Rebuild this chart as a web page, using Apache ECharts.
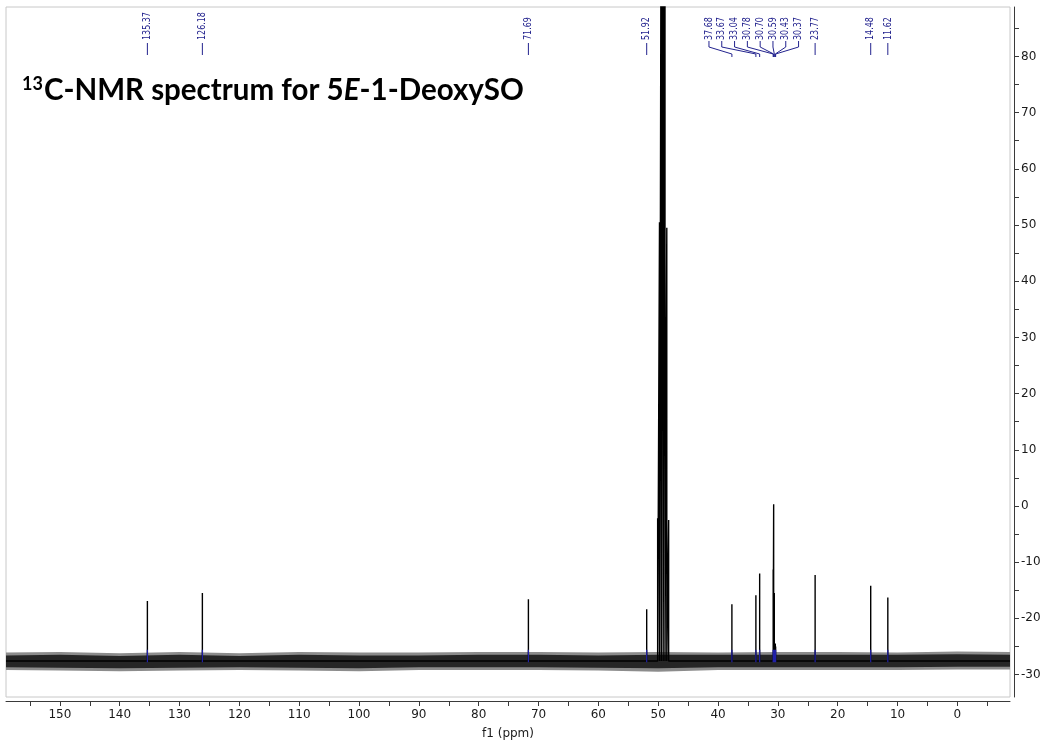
<!DOCTYPE html>
<html>
<head>
<meta charset="utf-8">
<title>13C-NMR 5E-1-DeoxySO</title>
<script src="https://cdn.jsdelivr.net/npm/echarts@6/dist/echarts.min.js"></script>
<style>
  html, body { margin: 0; padding: 0; background: #fff; }
  #chart { width: 1046px; height: 745px; }
</style>
</head>
<body>
<div id="chart"></div>
<script>
const peakPpm = [135.37, 126.18, 71.69, 51.92, 37.68, 33.67, 33.04, 30.78, 30.70, 30.59, 30.43, 30.37, 23.77, 14.48, 11.62];
const peakTop = [-16.9, -15.5, -16.6, -18.4, -17.5, -15.9, -12.0, -11.3, 0.3, -15.5, -24.5, -25.0, -12.3, -14.2, -16.3];

// solvent septet (not labelled); the three middle lines run off the top
const solventPpm = [50.09, 49.78, 49.48, 49.17, 48.86, 48.56, 48.25];
const solventTop = [-2.2, 50.5, 130, 150, 130, 49.5, -2.5];

// baseline noise: outer envelope and dense core, read every 10 ppm
const noisePpm = [159, 150, 140, 130, 120, 110, 100, 90, 80, 70, 60, 50, 40, 30, 20, 10, 0, -8.8];
const noiseHigh = [-26.1, -26.0, -26.2, -26.0, -26.2, -26.0, -26.1, -26.1, -26.0, -26.0, -26.1, -26.0, -26.1, -26.0, -26.0, -26.1, -25.9, -26.0];
const noiseLow = [-29.2, -29.3, -29.4, -29.3, -29.2, -29.3, -29.4, -29.2, -29.2, -29.2, -29.3, -29.5, -29.2, -29.2, -29.2, -29.2, -29.1, -29.1];
const coreHigh = [-26.6, -26.5, -26.7, -26.5, -26.7, -26.5, -26.6, -26.6, -26.5, -26.5, -26.6, -26.5, -26.5, -26.5, -26.5, -26.5, -26.4, -26.5];
const coreLow = [-28.7, -28.8, -28.9, -28.8, -28.7, -28.8, -28.9, -28.7, -28.7, -28.7, -28.8, -28.9, -28.7, -28.7, -28.7, -28.7, -28.6, -28.6];
const baseline = -27.6;

// axis ticks and labels
const xLabels = [150, 140, 130, 120, 110, 100, 90, 80, 70, 60, 50, 40, 30, 20, 10, 0];
const xTicks = [155, 150, 145, 140, 135, 130, 125, 120, 115, 110, 105, 100, 95, 90, 85, 80, 75, 70, 65, 60, 55, 50, 45, 40, 35, 30, 25, 20, 15, 10, 5, 0, -5];
const yLabels = [-30, -20, -10, 0, 10, 20, 30, 40, 50, 60, 70, 80];
const yTicks = [-30, -25, -20, -15, -10, -5, 0, 5, 10, 15, 20, 25, 30, 35, 40, 45, 50, 55, 60, 65, 70, 75, 80, 85];

const X_MAX = 159.0, X_MIN = -8.8;
const Y_MAX = 88.8, Y_MIN = -34.0;
const GRID = { left: 6, right: 36, top: 7, bottom: 47 };
const LABEL_COLOR = '#23238e';
const LABEL_GAP_PX = 12.8;

// spread crowded peak labels: groups are centred on the middle of their peaks
function layoutLabels(ppms, gap) {
  let groups = ppms.map(p => ({ hi: p, lo: p, n: 1 }));
  const centre = g => (g.hi + g.lo) / 2;
  let merged = true;
  while (merged) {
    merged = false;
    for (let i = 0; i < groups.length - 1; i++) {
      const a = groups[i], b = groups[i + 1];
      const aEnd = centre(a) - (a.n - 1) / 2 * gap;
      const bStart = centre(b) + (b.n - 1) / 2 * gap;
      if (aEnd - bStart < gap) {
        groups.splice(i, 2, { hi: a.hi, lo: b.lo, n: a.n + b.n });
        merged = true;
        break;
      }
    }
  }
  const out = [];
  groups.forEach(g => {
    for (let k = 0; k < g.n; k++) out.push(centre(g) + ((g.n - 1) / 2 - k) * gap);
  });
  return out;
}

const chart = echarts.init(document.getElementById('chart'));
const gridWidth = 1046 - GRID.left - GRID.right;
const gapPpm = LABEL_GAP_PX / (gridWidth / (X_MAX - X_MIN));
const labelPpm = layoutLabels(peakPpm, gapPpm);

// spectrum trace: baseline with every line drawn up to its apex
const lines = peakPpm.map((p, i) => [p, peakTop[i]])
  .concat(solventPpm.map((p, i) => [p, solventTop[i]]))
  .sort((a, b) => b[0] - a[0]);
const trace = [[X_MAX, baseline]];
lines.forEach(l => { trace.push([l[0], baseline], l, [l[0], baseline]); });
trace.push([X_MIN, baseline]);

// small blue peak-pick marks at the foot of labelled peaks
const marks = [];
peakPpm.forEach(p => { marks.push([p, -27.8], [p, -25.6], [p, '-']); });

function bandSeries(high, low, color) {
  return {
    type: 'custom',
    silent: true,
    data: noisePpm.map((p, i) => [p, low[i], high[i]]),
    encode: { x: 0, y: [1, 2] },
    renderItem: function (params, api) {
      if (params.dataIndex !== 0) return null;
      const upper = noisePpm.map((p, i) => api.coord([p, high[i]]));
      const lower = noisePpm.map((p, i) => api.coord([p, low[i]])).reverse();
      return { type: 'polygon', shape: { points: upper.concat(lower) }, style: { fill: color } };
    }
  };
}

const axisFont = { fontFamily: 'DejaVu Sans', fontSize: 12, color: '#1a1a1a' };

chart.setOption({
  animation: false,
  title: {
    left: 17,
    top: 70,
    text: '{sup|13}{b|C-NMR spectrum for 5}{i|E}{b|-1-DeoxySO}',
    textStyle: {
      rich: {
        sup: { fontFamily: 'Lato', fontWeight: 'bold', fontSize: 18, color: '#000', verticalAlign: 'top', padding: [0, 1, 8, 0] },
        b: { fontFamily: 'Lato', fontWeight: 'bold', fontSize: 29.5, color: '#000' },
        i: { fontFamily: 'Lato', fontWeight: 'bold', fontStyle: 'italic', fontSize: 29.5, color: '#000' }
      }
    }
  },
  grid: Object.assign({ show: true, borderColor: '#c8c8c8', borderWidth: 1, backgroundColor: '#fff' }, GRID),
  xAxis: {
    type: 'value',
    inverse: true,
    min: X_MIN,
    max: X_MAX,
    offset: 4,
    name: 'f1 (ppm)',
    nameLocation: 'middle',
    nameGap: 27,
    nameTextStyle: axisFont,
    axisLine: { show: true, onZero: false, lineStyle: { color: '#3a3a3a', width: 1 } },
    axisTick: { show: true, length: 5, customValues: xTicks, lineStyle: { color: '#3a3a3a' } },
    axisLabel: Object.assign({ margin: 8, customValues: xLabels }, axisFont),
    splitLine: { show: false }
  },
  yAxis: {
    type: 'value',
    position: 'right',
    min: Y_MIN,
    max: Y_MAX,
    offset: 4,
    axisLine: { show: true, onZero: false, lineStyle: { color: '#3a3a3a', width: 1 } },
    axisTick: { show: true, length: 5, customValues: yTicks, lineStyle: { color: '#3a3a3a' } },
    axisLabel: Object.assign({ margin: 7, customValues: yLabels }, axisFont),
    splitLine: { show: false }
  },
  series: [
    bandSeries(noiseHigh, noiseLow, '#8c8c8c'),
    bandSeries(coreHigh, coreLow, '#262626'),
    {
      type: 'line',
      data: trace,
      showSymbol: false,
      clip: true,
      lineStyle: { color: '#000', width: 1.4 },
      silent: true
    },
    {
      type: 'line',
      data: marks,
      showSymbol: false,
      connectNulls: false,
      lineStyle: { color: '#2020a8', width: 1.2 },
      silent: true
    },
    {
      type: 'custom',
      silent: true,
      data: peakPpm.map((p, i) => [p, labelPpm[i], i]),
      encode: { x: 0 },
      renderItem: function (params, api) {
        const xa = api.coord([api.value(0), 0])[0];
        const xd = api.coord([api.value(1), 0])[0];
        const top = params.coordSys.y;
        const i = api.value(2);
        const pts = Math.abs(xd - xa) < 0.5
          ? [[xa, top + 36], [xa, top + 48]]
          : [[xd, top + 34], [xd, top + 40], [xa, top + 47], [xa, top + 50]];
        return {
          type: 'group',
          children: [
            {
              type: 'text',
              x: xd,
              y: top + 33,
              rotation: Math.PI / 2,
              scaleX: 0.76,
              style: {
                text: peakPpm[i].toFixed(2),
                x: 0, y: 0,
                align: 'left', verticalAlign: 'middle',
                textAlign: 'left', textVerticalAlign: 'middle',
                fontFamily: 'DejaVu Sans',
                fontSize: 10.5,
                fill: LABEL_COLOR
              }
            },
            {
              type: 'polyline',
              shape: { points: pts },
              style: { stroke: LABEL_COLOR, lineWidth: 1, fill: null }
            }
          ]
        };
      }
    }
  ]
});
</script>
</body>
</html>
